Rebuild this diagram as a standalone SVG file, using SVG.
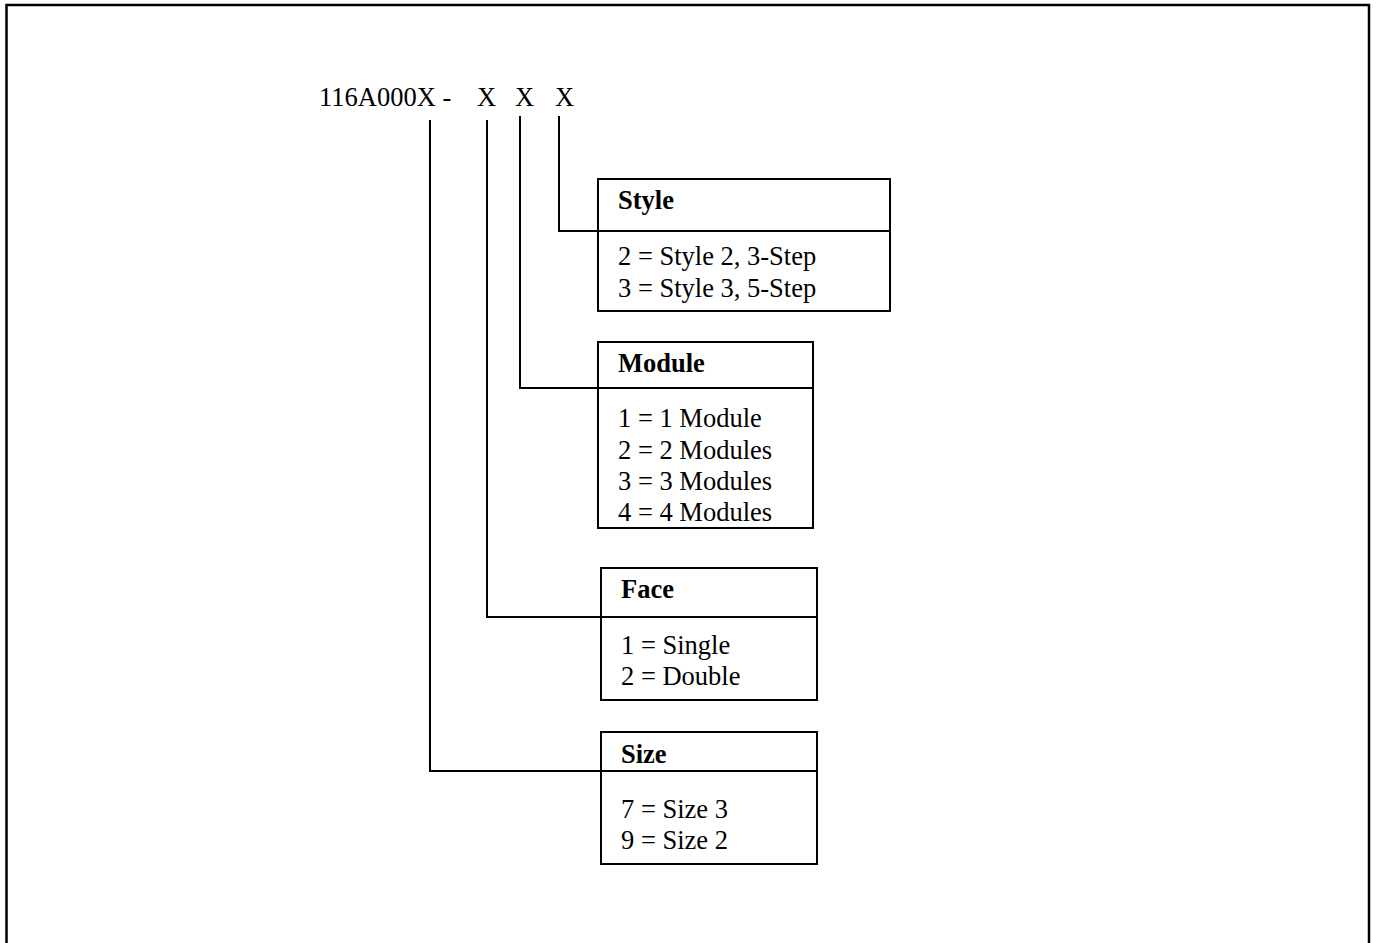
<svg xmlns="http://www.w3.org/2000/svg" width="1376" height="943" viewBox="0 0 1376 943">
<style>
.t{font-family:"Liberation Serif","Times New Roman",serif;font-size:26.5px;fill:#000}
.b{font-weight:bold}
.box{fill:none;stroke:#000;stroke-width:2}
.ln{fill:none;stroke:#000;stroke-width:2}
</style>
<rect x="0" y="0" width="1376" height="943" fill="#fff"/>
<path d="M6.5,960 V5 H1369 V960" fill="none" stroke="#000" stroke-width="2.5"/>
<g id="header">
<text class="t" x="319" y="106">116A000X -</text>
<text class="t" x="477" y="106">X</text>
<text class="t" x="515" y="106">X</text>
<text class="t" x="555" y="106">X</text>
</g>
<g id="connectors">
<path class="ln" d="M559,116 V231 H598"/>
<path class="ln" d="M520,116 V388 H598"/>
<path class="ln" d="M487,120 V617 H601"/>
<path class="ln" d="M430,120 V771 H601"/>
</g>
<g id="style">
<rect class="box" x="598" y="179" width="292" height="132"/>
<line class="ln" x1="598" y1="231" x2="890" y2="231"/>
<text class="t b" x="618" y="209">Style</text>
<text class="t" x="618" y="265">2 = Style 2, 3-Step</text>
<text class="t" x="618" y="297">3 = Style 3, 5-Step</text>
</g>
<g id="module">
<rect class="box" x="598" y="342" width="215" height="186"/>
<line class="ln" x1="598" y1="388" x2="813" y2="388"/>
<text class="t b" x="618" y="372">Module</text>
<text class="t" x="618" y="427">1 = 1 Module</text>
<text class="t" x="618" y="459">2 = 2 Modules</text>
<text class="t" x="618" y="490">3 = 3 Modules</text>
<text class="t" x="618" y="521">4 = 4 Modules</text>
</g>
<g id="face">
<rect class="box" x="601" y="568" width="216" height="132"/>
<line class="ln" x1="601" y1="617" x2="817" y2="617"/>
<text class="t b" x="621" y="598">Face</text>
<text class="t" x="621" y="654">1 = Single</text>
<text class="t" x="621" y="685">2 = Double</text>
</g>
<g id="size">
<rect class="box" x="601" y="732" width="216" height="132"/>
<line class="ln" x1="601" y1="771" x2="817" y2="771"/>
<text class="t b" x="621" y="763">Size</text>
<text class="t" x="621" y="818">7 = Size 3</text>
<text class="t" x="621" y="849">9 = Size 2</text>
</g>
</svg>
